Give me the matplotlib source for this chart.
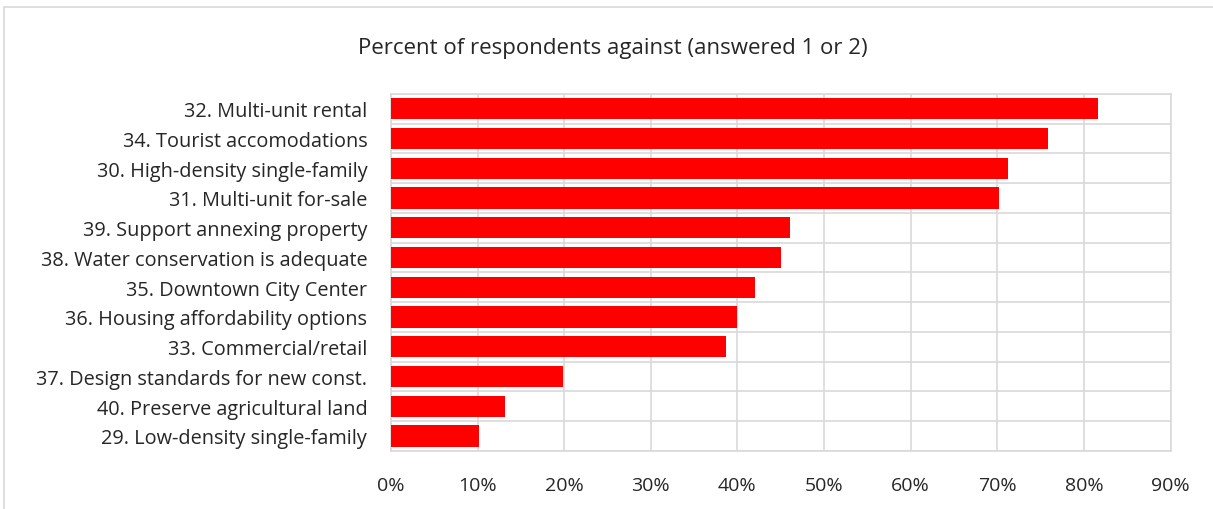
import numpy as np
import matplotlib.pyplot as plt
from matplotlib.patches import Rectangle

plt.rcParams['font.family'] = ['Open Sans', 'DejaVu Sans']

categories = [
    "32. Multi-unit rental",
    "34. Tourist accomodations",
    "30. High-density single-family",
    "31. Multi-unit for-sale",
    "39. Support annexing property",
    "38. Water conservation is adequate",
    "35. Downtown City Center",
    "36. Housing affordability options",
    "33. Commercial/retail",
    "37. Design standards for new const.",
    "40. Preserve agricultural land",
    "29. Low-density single-family",
]
values = [81.6, 75.8, 71.2, 70.2, 46.1, 45.0, 42.0, 39.9, 38.7, 19.9, 13.2, 10.2]
xticks = [0, 10, 20, 30, 40, 50, 60, 70, 80, 90]

fig = plt.figure(figsize=(12.13, 5.10), dpi=100)
ax = fig.add_axes([0.3223, 0.114, 0.6427, 0.700])

y = np.arange(len(categories))
ax.barh(y, values, height=0.71, color='#ff0000', zorder=3)
ax.set_ylim(len(categories) - 0.5, -0.5)
ax.set_xlim(0, 90)

ax.set_yticks(y)
ax.set_yticklabels(categories, fontsize=14.3, color='#262626')
ax.set_yticks(np.arange(-0.5, len(categories), 1), minor=True)
ax.set_xticks(xticks)
ax.set_xticklabels([f"{t}%" for t in xticks], fontsize=14, color='#262626')

ax.grid(axis='x', which='major', color='#d9d9d9', linewidth=1.2, zorder=0)
ax.grid(axis='y', which='minor', color='#d9d9d9', linewidth=1.2, zorder=0)
ax.tick_params(axis='both', which='both', length=0)
ax.tick_params(axis='x', pad=18)
ax.tick_params(axis='y', pad=17)
for s in ax.spines.values():
    s.set_color('#d9d9d9')
    s.set_linewidth(1.2)

fig.text(0.505, 0.905, "Percent of respondents against (answered 1 or 2)",
         ha='center', va='center', fontsize=16, color='#262626')

fig.patches.append(Rectangle((0.003, -0.01), 1.2, 0.995, transform=fig.transFigure,
                             fill=False, edgecolor='#d9d9d9', linewidth=1.2))

fig.savefig('out.png', dpi=100)
